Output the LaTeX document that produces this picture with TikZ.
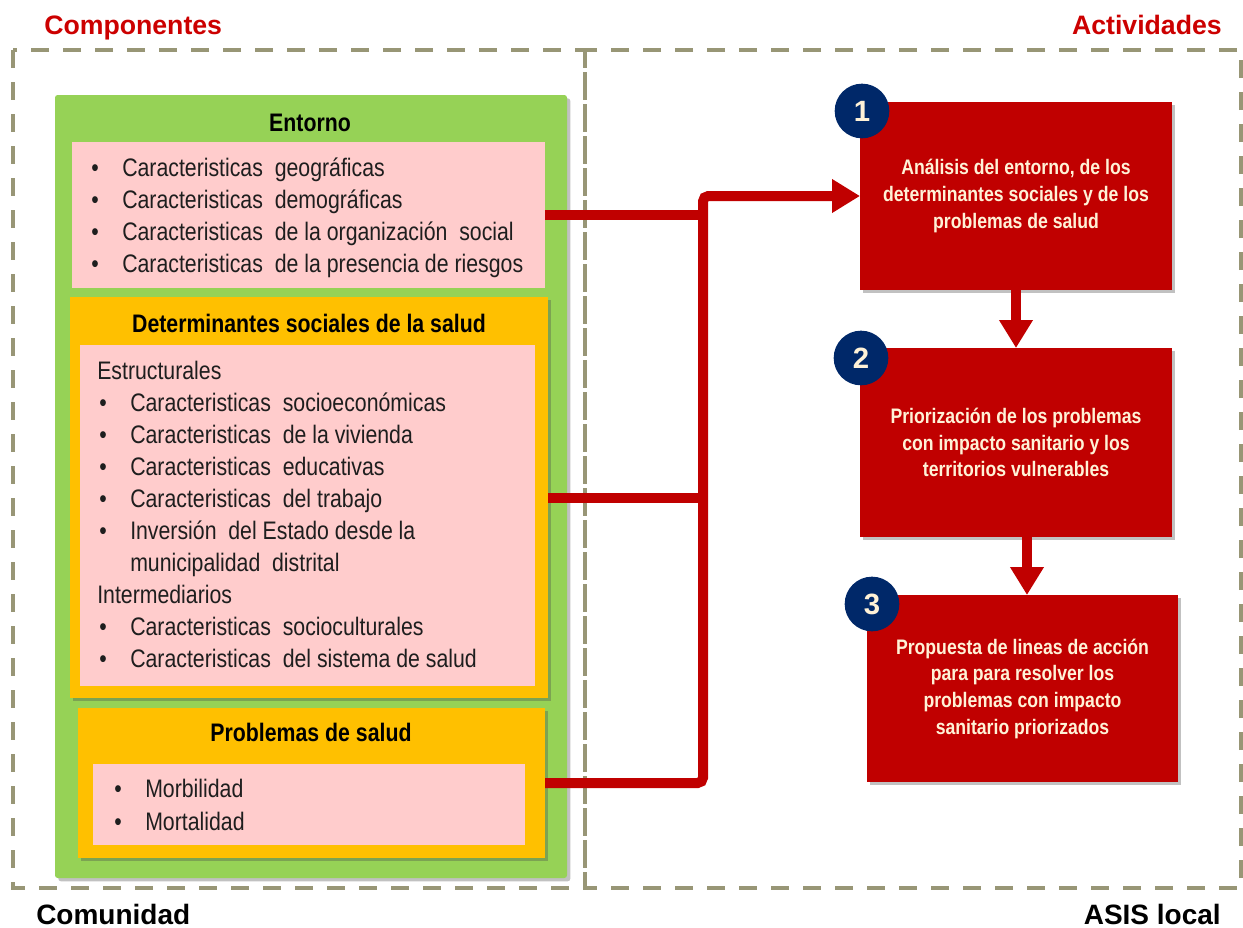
\documentclass[tikz,border=0pt]{standalone}
\usepackage{fontspec}
\setmainfont{Liberation Sans}
\newfontfamily\narrow[FakeStretch=0.84]{Liberation Sans}
\usetikzlibrary{shadows,arrows.meta,fit,calc}
\definecolor{framecol}{RGB}{152,150,118}
\definecolor{grn}{RGB}{150,210,86}
\definecolor{ylw}{RGB}{255,192,0}
\definecolor{pnk}{RGB}{255,204,204}
\definecolor{rd}{RGB}{192,0,0}
\definecolor{navy}{RGB}{0,40,105}
\definecolor{cream}{RGB}{255,242,215}
\definecolor{hdr}{RGB}{204,0,0}
\definecolor{txt}{RGB}{30,30,30}
\newcommand\bul{\makebox[23.25pt][l]{\textbullet}}
\begin{document}
\begin{tikzpicture}[x=0.75pt,y=-0.75pt,
  frm/.style={draw=framecol, line width=2.6pt, dash pattern=on 13.5pt off 10.5pt},
  shd/.style={drop shadow={shadow xshift=2.5pt, shadow yshift=-2.5pt, opacity=0.35, fill=black!70}},
  boxfit/.style={inner sep=0pt, outer sep=0pt},
  body/.style={font=\narrow\fontsize{19}{24}\selectfont, text=txt, anchor=base west, inner sep=0pt},
  ttl/.style={font=\narrow\bfseries\fontsize{19}{24}\selectfont, text=black, anchor=base, inner sep=0pt},
  redbox/.style={boxfit, fill=rd, shd},
  redtxt/.style={text=cream, align=center, font=\narrow\bfseries\fontsize{15.75}{20}\selectfont},
  num/.style={circle, fill=navy, minimum size=41pt, inner sep=0pt, text=cream,
     font=\bfseries\fontsize{22}{22}\selectfont},
  conn/.style={draw=rd, line width=7.5pt},
  tip/.style={-{Triangle[length=21pt,width=24pt]}},
  hdrtxt/.style={font=\bfseries\fontsize{20}{24}\selectfont, text=hdr, inner sep=0pt},
  ftrtxt/.style={font=\bfseries\fontsize{21}{24}\selectfont, text=black, inner sep=0pt}
]
\useasboundingbox (0,0) rectangle (1243,928);

% frames
\draw[frm] (13,50) rectangle (585,888);
\draw[frm] (585,50) rectangle (1241,888);

% headers / footers
\node[hdrtxt, anchor=base west] (hcomp) at (44,34) {Componentes};
\node[hdrtxt, anchor=base east] (hact) at (1222,34) {Actividades};
\node[ftrtxt, anchor=base west] (fcom) at (36,924) {Comunidad};
\node[ftrtxt, anchor=base east] (fasis) at (1221,924) {ASIS local};

% left column boxes
\node[boxfit, fit={(55,95) (567,878)}, fill=grn, rounded corners=2pt, shd] (green) {};
\node[boxfit, fit={(72,142) (545,288)}, fill=pnk] (p1) {};
\node[boxfit, fit={(70,297) (548,698)}, fill=ylw, shd] (y2) {};
\node[boxfit, fit={(80,345) (535,686)}, fill=pnk] (p2) {};
\node[boxfit, fit={(78,708) (545,858)}, fill=ylw, shd] (y3) {};
\node[boxfit, fit={(93,764) (525,845)}, fill=pnk] (p3) {};

% titles
\node[ttl] (t1) at (310,131) {Entorno};
\node[ttl] (t2) at (309,332) {Determinantes sociales de la salud};
\node[ttl] (t3) at (311,741) {Problemas de salud};

% Entorno items
\node[body] (e1) at (91,176) {\bul Caracteristicas\ \ geográficas};
\node[body] (e2) at (91,208) {\bul Caracteristicas\ \ demográficas};
\node[body] (e3) at (91,240) {\bul Caracteristicas\ \ de la organización\ \ social};
\node[body] (e4) at (91,272) {\bul Caracteristicas\ \ de la presencia de riesgos};

% Determinantes items
\node[body] (d0) at (97,379) {Estructurales};
\node[body] (d1) at (99,411) {\bul Caracteristicas\ \ socioeconómicas};
\node[body] (d2) at (99,443) {\bul Caracteristicas\ \ de la vivienda};
\node[body] (d3) at (99,475) {\bul Caracteristicas\ \ educativas};
\node[body] (d4) at (99,507) {\bul Caracteristicas\ \ del trabajo};
\node[body] (d5) at (99,539) {\bul Inversión\ \ del Estado desde la};
\node[body] (d6) at (130,571) {municipalidad\ \ distrital};
\node[body] (d7) at (97,603) {Intermediarios};
\node[body] (d8) at (99,635) {\bul Caracteristicas\ \ socioculturales};
\node[body] (d9) at (99,667) {\bul Caracteristicas\ \ del sistema de salud};

% Problemas items
\node[body] (m1) at (114,797) {\bul Morbilidad};
\node[body] (m2) at (114,830) {\bul Mortalidad};

% red boxes
\node[redbox, fit={(860,102) (1172,290)}] (r1) {};
\node[redtxt] (r1t) at (r1.center)
  {Análisis del entorno, de los\\determinantes sociales y de los\\problemas de salud};
\node[redbox, fit={(860,348) (1172,537)}] (r2) {};
\node[redtxt] (r2t) at (r2.center)
  {Priorización de los problemas\\con impacto sanitario y los\\territorios vulnerables};
\node[redbox, fit={(867,595) (1178,782)}] (r3) {};
\node[redtxt] (r3t) at (r3.center)
  {Propuesta de lineas de acción\\para para resolver los\\problemas con impacto\\sanitario priorizados};

% number circles
\node[num] (n1) at (862,111) {1};
\node[num] (n2) at (861,358) {2};
\node[num] (n3) at (872,604) {3};

% connectors
\coordinate (bj) at (703,196);
\coordinate (a23) at (1027,0);
\draw[conn, tip, rounded corners=4pt] (y3.east) -| (bj) -- (r1.west);
\draw[conn] (p1.east) -- (p1.east -| bj);
\draw[conn] (y2.east) -- (y2.east -| bj);
\draw[conn, tip] (r1.south) -- (r2.north);
\draw[conn, tip] (r2.south -| a23) -- (r3.north -| a23);
\end{tikzpicture}
\end{document}
